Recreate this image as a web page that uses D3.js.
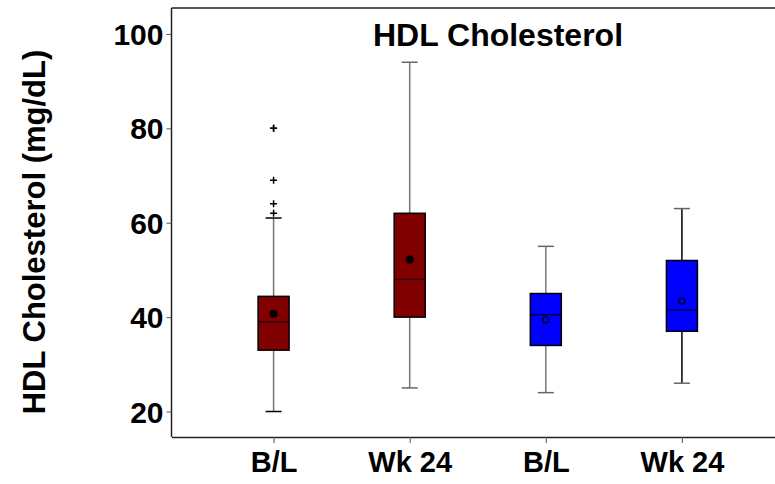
<!DOCTYPE html>
<html>
<head>
<meta charset="utf-8">
<script src="https://cdn.jsdelivr.net/npm/d3@7"></script>
<style>
  body { margin: 0; background: #fff; }
  text { font-family: "Liberation Sans", Arial, sans-serif; font-weight: bold; fill: #000; }
</style>
</head>
<body>
<div id="chart"></div>
<script>
// chart data
var categories = ["B/L", "Wk 24", "B/L", "Wk 24"];
var whiskerLow  = [20, 25, 24, 26];
var q1          = [33, 40, 34, 37];
var medians     = [39, 48, 40.5, 41.5];
var q3          = [44.4, 62, 45, 52];
var whiskerHigh = [61, 94, 55, 63];
var means       = [40.7, 52.2, 39.4, 43.4];
var outliers    = [[62, 64, 69, 80, 80], [], [], []];
var yTicks = [20, 40, 60, 80, 100];

var fills = ["#800000", "#800000", "#0000ff", "#0000ff"];

var svgWidth = 775;
var svgHeight = 484;

var plot = { left: 171.5, top: 8, bottom: 437, right: 784 };

var svg = d3.select("#chart")
    .append("svg")
    .attr("width", svgWidth)
    .attr("height", svgHeight);

var yScale = d3.scaleLinear()
    .domain([14.6, 105.5])
    .range([plot.bottom, plot.top]);

var xScale = d3.scalePoint()
    .domain(d3.range(categories.length))
    .range([plot.left, plot.right])
    .padding(0.75);

// frame: top line + axes
svg.append("line")
    .attr("x1", plot.left).attr("x2", plot.right)
    .attr("y1", plot.top).attr("y2", plot.top)
    .attr("stroke", "#222").attr("stroke-width", 1.5);

var leftAxis = d3.axisLeft(yScale)
    .tickValues(yTicks)
    .tickSize(5)
    .tickPadding(3)
    .tickSizeOuter(0);

var yAxis = svg.append("g")
    .attr("transform", `translate(${plot.left},0)`)
    .call(leftAxis);
yAxis.select(".domain").attr("stroke", "#222").attr("stroke-width", 1.5)
    .attr("d", `M0,${plot.top}V${plot.bottom}`);
yAxis.selectAll(".tick line").attr("stroke", "#555");
yAxis.selectAll(".tick text")
    .attr("font-size", 30)
    .attr("font-family", null)
    .attr("dy", "0.35em");

var bottomAxis = d3.axisBottom(xScale)
    .tickSize(6)
    .tickPadding(8)
    .tickSizeOuter(0)
    .tickFormat(i => categories[i]);

var xAxis = svg.append("g")
    .attr("transform", `translate(0,${plot.bottom})`)
    .call(bottomAxis);
xAxis.select(".domain").attr("stroke", "#222").attr("stroke-width", 1.5);
xAxis.selectAll(".tick line").attr("stroke", "#555");
xAxis.selectAll(".tick text")
    .attr("font-size", 29)
    .attr("font-family", null);

// title
svg.append("text")
    .attr("x", 498)
    .attr("y", 46)
    .attr("text-anchor", "middle")
    .attr("font-size", 32)
    .text("HDL Cholesterol");

// y axis label
svg.append("text")
    .attr("transform", "translate(45,232)rotate(-90)")
    .attr("text-anchor", "middle")
    .attr("font-size", 31)
    .text("HDL Cholesterol (mg/dL)");

// box plots
var boxWidth = 31;
var capWidth = 16;

var boxes = svg.selectAll(".box")
    .data(categories.map((c, i) => i))
    .enter()
    .append("g")
    .attr("class", "box");

// whiskers
boxes.append("line")
    .attr("x1", i => xScale(i)).attr("x2", i => xScale(i))
    .attr("y1", i => yScale(whiskerLow[i]))
    .attr("y2", i => yScale(whiskerHigh[i]))
    .attr("stroke", i => i === 3 ? "#000" : "#777")
    .attr("stroke-width", 1.5);

// caps
[whiskerLow, whiskerHigh].forEach(arr => {
    boxes.append("line")
        .attr("x1", i => xScale(i) - capWidth / 2)
        .attr("x2", i => xScale(i) + capWidth / 2)
        .attr("y1", i => yScale(arr[i]))
        .attr("y2", i => yScale(arr[i]))
        .attr("stroke", i => i === 0 ? "#000" : "#666")
        .attr("stroke-width", 1.5);
});

boxes.append("rect")
    .attr("x", i => xScale(i) - boxWidth / 2)
    .attr("y", i => yScale(q3[i]))
    .attr("width", boxWidth)
    .attr("height", i => yScale(q1[i]) - yScale(q3[i]))
    .attr("fill", i => fills[i])
    .attr("stroke", "#000")
    .attr("stroke-width", 1.5);

boxes.append("line")
    .attr("x1", i => xScale(i) - boxWidth / 2)
    .attr("x2", i => xScale(i) + boxWidth / 2)
    .attr("y1", i => yScale(medians[i]))
    .attr("y2", i => yScale(medians[i]))
    .attr("stroke", i => i < 2 ? "#300000" : "#000040")
    .attr("stroke-width", 1.5);

// means
boxes.append("circle")
    .attr("cx", i => xScale(i))
    .attr("cy", i => yScale(means[i]))
    .attr("r", i => i < 2 ? 4 : 3)
    .attr("fill", i => i < 2 ? "#000" : "none")
    .attr("stroke", "#000")
    .attr("stroke-width", i => i < 2 ? 0 : 1.3);

// outliers as plus marks
outliers.forEach((arr, i) => {
    svg.selectAll(".out" + i)
        .data(arr)
        .enter()
        .append("path")
        .attr("d", "M-3.5,0H3.5M0,-3.5V3.5")
        .attr("transform", d => `translate(${xScale(i)},${yScale(d)})`)
        .attr("stroke", "#000")
        .attr("stroke-width", 1.5)
        .attr("fill", "none");
});
</script>
</body>
</html>
